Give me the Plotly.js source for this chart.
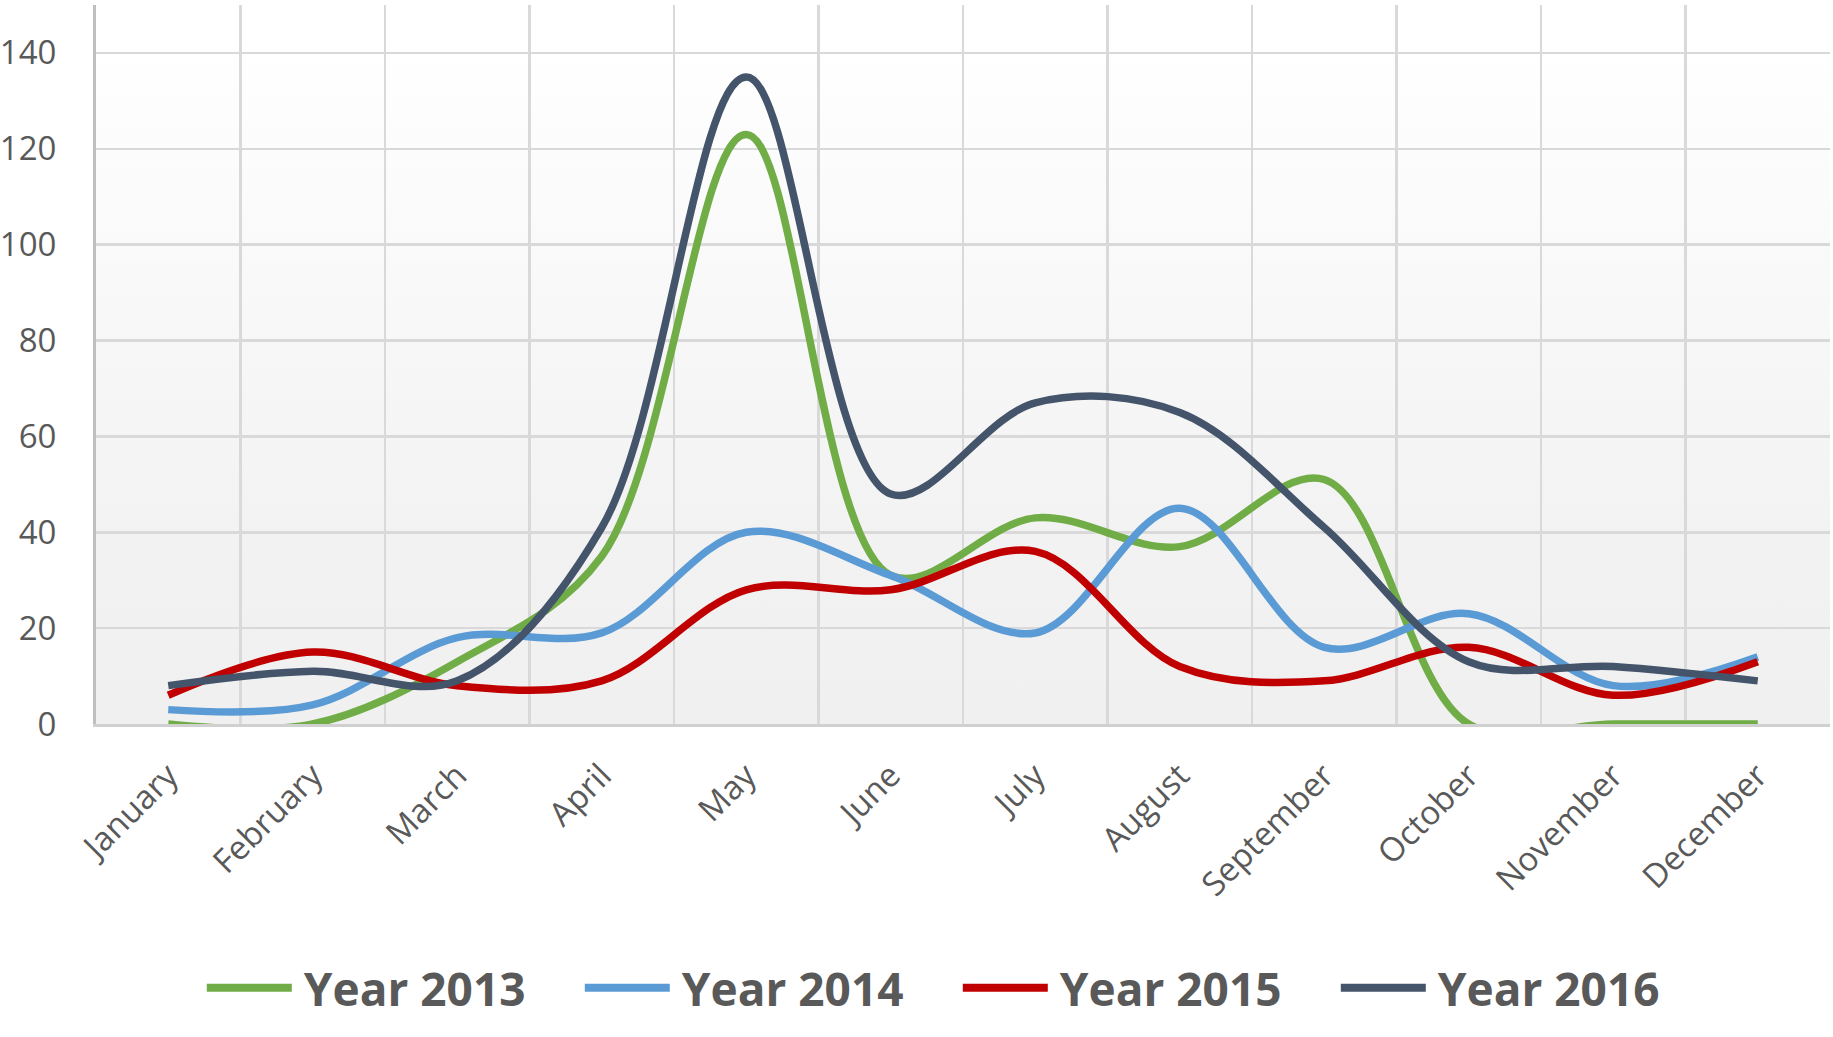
<!DOCTYPE html>
<html>
<head>
<meta charset="utf-8">
<script src="https://cdn.plot.ly/plotly-3.0.1.min.js"></script>
<style>
  body { margin: 0; background: #ffffff; }
  #chart { width: 1833px; height: 1037px; }
</style>
</head>
<body>
<div id="chart"></div>
<script>
var months = ['January', 'February', 'March', 'April', 'May', 'June',
              'July', 'August', 'September', 'October', 'November', 'December'];

var seriesNames = ['Year 2013', 'Year 2014', 'Year 2015', 'Year 2016'];
var year2013 = [0, 0, 13, 35, 123, 31, 43, 37, 51, 0, 0, 0];
var year2014 = [3, 4, 18, 19, 40, 31, 19, 45, 16, 23, 8, 14];
var year2015 = [6, 15, 8, 9, 28, 28, 36, 12, 9, 16, 6, 13];
var year2016 = [8, 11, 9, 41, 135, 48, 67, 65, 41, 13, 12, 9];

var yTicks = [0, 20, 40, 60, 80, 100, 120, 140];

var colors = ['#70ad47', '#5b9bd5', '#c00000', '#44546a'];
var textColor = '#595959';
var gridColor = '#d9d9d9';

function lineTrace(name, ys, color) {
    return {
        x: months,
        y: ys,
        name: name,
        type: 'scatter',
        mode: 'lines',
        line: { color: color, width: 7.5, shape: 'spline', smoothing: 1 },
        hoverinfo: 'x+y+name'
    };
}

var data = [
    lineTrace(seriesNames[0], year2013, colors[0]),
    lineTrace(seriesNames[1], year2014, colors[1]),
    lineTrace(seriesNames[2], year2015, colors[2]),
    lineTrace(seriesNames[3], year2016, colors[3])
];

// soft white-to-grey fill behind the plot area
var bgSvg = "<svg xmlns='http://www.w3.org/2000/svg' width='100' height='100' preserveAspectRatio='none'>" +
    "<defs><linearGradient id='g' x1='0' y1='0' x2='0' y2='1'>" +
    "<stop offset='0.05' stop-color='#ffffff'/>" +
    "<stop offset='0.75' stop-color='#f2f2f2'/>" +
    "<stop offset='1' stop-color='#f0f0f0'/>" +
    "</linearGradient></defs>" +
    "<rect width='100' height='100' fill='url(#g)'/></svg>";

var layout = {
    width: 1833,
    height: 1037,
    margin: { l: 96, r: 3, t: 5, b: 313 },
    paper_bgcolor: '#ffffff',
    plot_bgcolor: 'rgba(0,0,0,0)',
    font: { family: 'Open Sans, sans-serif', color: textColor },
    showlegend: true,
    images: [{
        source: 'data:image/svg+xml;charset=utf-8,' + encodeURIComponent(bgSvg),
        xref: 'paper', yref: 'paper',
        x: 0, y: 1, sizex: 1, sizey: 1,
        xanchor: 'left', yanchor: 'top',
        sizing: 'stretch', layer: 'below'
    }],
    xaxis: {
        type: 'category',
        range: [-0.5, 11.5],
        tickson: 'boundaries',
        showgrid: true,
        gridcolor: gridColor,
        gridwidth: 2.5,
        showline: true,
        linecolor: '#d0d0d0',
        linewidth: 3,
        ticks: '',
        tickangle: -45,
        ticklabelstandoff: 16,
        tickfont: { family: 'Open Sans, sans-serif', size: 33, color: textColor },
        zeroline: false,
        fixedrange: true
    },
    yaxis: {
        range: [0, 150],
        tickvals: yTicks,
        ticktext: yTicks.map(String),
        showgrid: true,
        gridcolor: gridColor,
        gridwidth: 2.5,
        showline: true,
        linecolor: '#bfbfbf',
        linewidth: 3,
        ticks: '',
        ticklabelstandoff: 30,
        tickfont: { family: 'Open Sans, sans-serif', size: 33, color: textColor },
        zeroline: false,
        fixedrange: true
    },
    legend: {
        orientation: 'h',
        x: 0.497,
        xanchor: 'center',
        y: -0.367,
        yanchor: 'middle',
        itemwidth: 92,
        entrywidth: 271,
        font: { family: 'Open Sans, sans-serif', size: 46, color: textColor, weight: 'bold' },
        bgcolor: 'rgba(0,0,0,0)'
    }
};

Plotly.newPlot('chart', data, layout, { displayModeBar: false, staticPlot: true }).then(function (gd) {
    // stretch the legend line samples to match the longer keys
    gd.querySelectorAll('.legend .traces path.js-line').forEach(function (p) {
        p.setAttribute('d', 'M5,0h85');
        p.style.strokeWidth = '8px';
    });
});
</script>
</body>
</html>
